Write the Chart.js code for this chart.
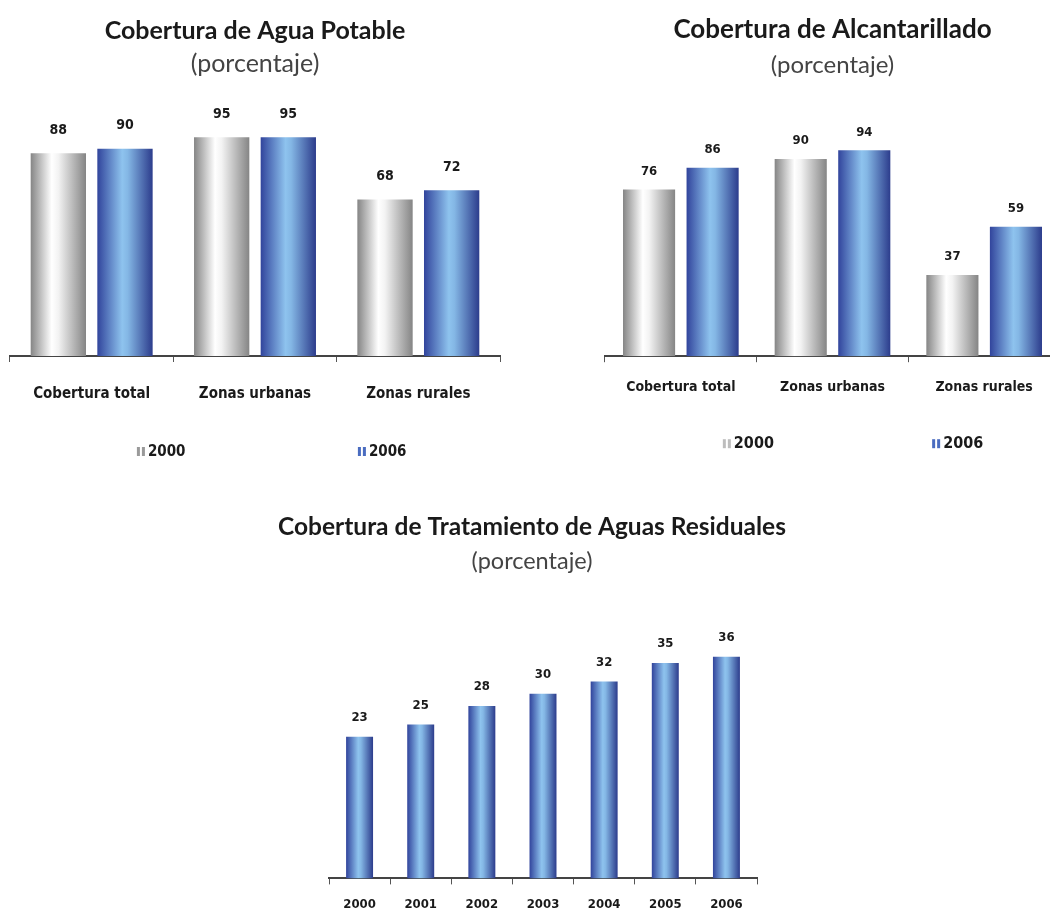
<!DOCTYPE html>
<html>
<head>
<meta charset="utf-8">
<script src="https://cdn.jsdelivr.net/npm/chart.js@4.4.1/dist/chart.umd.min.js"></script>
<style>
  html, body { margin: 0; padding: 0; background: #fff; width: 1050px; height: 913px; overflow: hidden; position: relative; }
  canvas { position: absolute; }
</style>
</head>
<body>
<canvas id="agua" width="520" height="475" style="left:0;top:0"></canvas>
<canvas id="alcantarillado" width="510" height="470" style="left:580px;top:0"></canvas>
<canvas id="tratamiento" width="1050" height="434" style="left:7px;top:490px"></canvas>
<script>
// Data
const zonas = ['Cobertura total', 'Zonas urbanas', 'Zonas rurales'];
const anios = ['2000', '2006'];
const agua2000 = [88, 95, 68];
const agua2006 = [90, 95, 72];
const alcant2000 = [76, 90, 37];
const alcant2006 = [86, 94, 59];
const tratYears = ['2000', '2001', '2002', '2003', '2004', '2005', '2006'];
const tratValues = [23, 25, 28, 30, 32, 35, 36];

const TITLE_FONT = 'Lato';
const LABEL_FONT = "'Liberation Sans Narrow', 'DejaVu Sans Condensed', Arial, sans-serif";

// cylinder-ish horizontal gradient per bar
const STOPS = {
  gray: [[0, '#858585'], [0.38, '#ffffff'], [0.5, '#f3f3f3'], [1, '#858585']],
  blue: [[0, '#31449c'], [0.45, '#8ec3ee'], [0.55, '#84b7e5'], [1, '#2c3c8c']]
};
const FLAT = { gray: '#c8c8c8', blue: '#5b84cf' };

function barFill(kind) {
  return ctx => {
    const el = ctx.element;
    if (!el || el.x == null || !el.width) return FLAT[kind];
    const g = ctx.chart.ctx.createLinearGradient(el.x - el.width / 2, 0, el.x + el.width / 2, 0);
    STOPS[kind].forEach(s => g.addColorStop(s[0], s[1]));
    return g;
  };
}

// numbers above bars
const valueLabels = {
  id: 'valueLabels',
  afterDatasetsDraw(chart, args, opts) {
    const c = chart.ctx;
    c.save();
    c.font = opts.font;
    c.fillStyle = '#1a1a1a';
    c.textAlign = 'center';
    c.textBaseline = 'middle';
    chart.data.datasets.forEach((ds, i) => {
      chart.getDatasetMeta(i).data.forEach((bar, j) => c.fillText(ds.data[j], bar.x, bar.y - opts.offset));
    });
    c.restore();
  }
};

// legend with wide spacing, placed under the axis labels
const spacedLegend = {
  id: 'spacedLegend',
  afterDraw(chart, args, opts) {
    if (!opts.xs) return;
    const c = chart.ctx, a = chart.chartArea;
    const y = a.bottom + opts.offsetY;
    c.save();
    c.font = opts.font;
    c.textBaseline = 'middle';
    chart.data.datasets.forEach((ds, i) => {
      const x = a.left + opts.xs[i] * (a.right - a.left);
      c.fillStyle = ds.legendColor;
      c.fillRect(x, y - 4, 3, 9);
      c.fillRect(x + 5, y - 4, 3, 9);
      c.fillStyle = '#1a1a1a';
      c.fillText(ds.label, x + 11, y + 1);
    });
    c.restore();
  }
};

// invisible side axes keep the plot narrow while the titles use the full width
function spacer(pos, w) {
  return {
    type: 'linear', position: pos, display: true,
    ticks: { display: false }, grid: { display: false }, border: { display: false },
    afterFit: s => { s.width = w; }
  };
}

function makeChart(id, cfg) {
  const scales = {
    x: {
      grid: { display: true, drawOnChartArea: false, offset: true, tickLength: 6, color: '#555', tickWidth: 1 },
      border: { display: true, color: '#444', width: 2 },
      ticks: { color: '#1a1a1a', padding: cfg.tickPad, font: { family: LABEL_FONT, size: cfg.tickSize, weight: 'bold' } }
    },
    y: { display: false, min: 0, max: cfg.yMax }
  };
  if (cfg.sides) {
    scales.y = Object.assign(spacer('left', cfg.sides[0]), { min: 0, max: cfg.yMax });
    scales.yRight = spacer('right', cfg.sides[1]);
  }
  const chart = new Chart(document.getElementById(id), {
    type: 'bar',
    data: { labels: cfg.labels, datasets: cfg.datasets },
    options: {
      responsive: false,
      animation: false,
      events: [],
      layout: { padding: cfg.padding },
      datasets: { bar: { categoryPercentage: cfg.catPct, barPercentage: cfg.barPct, borderWidth: 0 } },
      scales,
      plugins: {
        legend: { display: false },
        tooltip: { enabled: false },
        title: {
          display: true, text: cfg.title, color: '#1a1a1a',
          font: { family: TITLE_FONT, size: cfg.titleSize, weight: 'bold' },
          padding: { top: cfg.titleTop, bottom: 0 }
        },
        subtitle: {
          display: true, text: '(porcentaje)', color: '#444',
          font: { family: TITLE_FONT, size: cfg.subSize, weight: 'normal' },
          padding: { top: cfg.subTop, bottom: cfg.subBottom }
        },
        valueLabels: { font: 'bold ' + cfg.valueSize + 'px ' + LABEL_FONT, offset: cfg.valueOffset },
        spacedLegend: cfg.legend || {}
      }
    },
    plugins: [valueLabels, spacedLegend]
  });
  chart.update(); // second pass so the gradients know each bar's position
  return chart;
}

makeChart('agua', {
  labels: zonas,
  datasets: [
    { label: anios[0], data: agua2000, backgroundColor: barFill('gray'), legendColor: '#9a9a9a' },
    { label: anios[1], data: agua2006, backgroundColor: barFill('blue'), legendColor: '#4a6cc0' }
  ],
  title: 'Cobertura de Agua Potable',
  titleSize: 25, subSize: 25,
  titleTop: 16, subTop: 3, subBottom: 21.4,
  padding: { left: 10, right: 20, top: 0, bottom: 49 },
  catPct: 0.816, barPct: 0.83, yMax: 111,
  tickPad: 23, tickSize: 15, valueSize: 14, valueOffset: 23,
  legend: { xs: [0.259, 0.71], offsetY: 95, font: 'bold 15px ' + LABEL_FONT }
});

makeChart('alcantarillado', {
  labels: zonas,
  datasets: [
    { label: anios[0], data: alcant2000, backgroundColor: barFill('gray'), legendColor: '#bdbdbd' },
    { label: anios[1], data: alcant2006, backgroundColor: barFill('blue'), legendColor: '#4a6cc0' }
  ],
  title: 'Cobertura de Alcantarillado',
  titleSize: 26, subSize: 24,
  titleTop: 14.5, subTop: 4.9, subBottom: 23.4,
  padding: { left: 25, right: 30, top: 0, bottom: 57 },
  catPct: 0.838, barPct: 0.82, yMax: 115.6,
  tickPad: 17, tickSize: 14, valueSize: 13, valueOffset: 18,
  legend: { xs: [0.259, 0.719], offsetY: 87, font: 'bold 16px ' + LABEL_FONT }
});

makeChart('tratamiento', {
  labels: tratYears,
  datasets: [
    { label: 'Cobertura', data: tratValues, backgroundColor: barFill('blue') }
  ],
  title: 'Cobertura de Tratamiento de Aguas Residuales',
  titleSize: 24.5, subSize: 23.5,
  titleTop: 22, subTop: 5.6, subBottom: 17.6,
  padding: { left: 0, right: 0, top: 0, bottom: 0 },
  sides: [322, 300],
  catPct: 0.49, barPct: 0.9, yMax: 46.4,
  tickPad: 12, tickSize: 13, valueSize: 13, valueOffset: 19
});
</script>
</body>
</html>
